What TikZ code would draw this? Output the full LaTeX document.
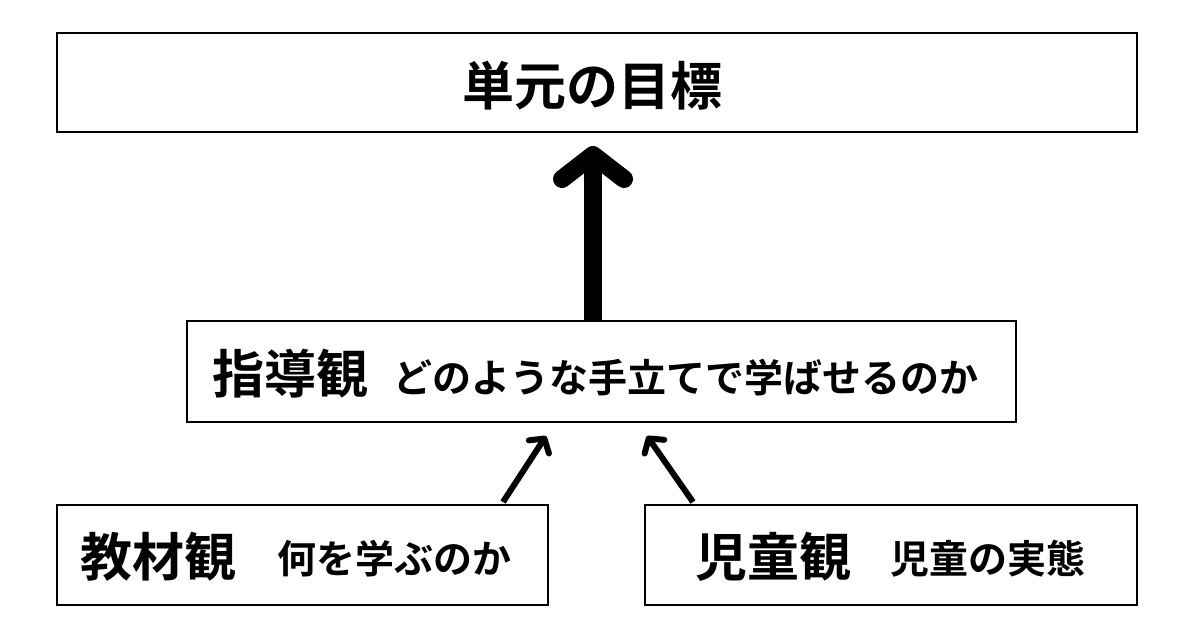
\documentclass[tikz,border=0pt]{standalone}
\usepackage{fontspec}
\newfontfamily\cjk{Noto Sans CJK JP Bold}
\usetikzlibrary{arrows.meta}
\tikzset{
  box/.style = {draw, line width=1.2pt, rectangle, inner sep=0pt},
  big/.style = {font=\cjk\fontsize{52}{56}\selectfont},
  sub/.style = {font=\cjk\fontsize{39}{42}\selectfont},
}
\begin{document}
\begin{tikzpicture}[x=1pt,y=-1pt]
  \useasboundingbox (0,0) rectangle (1200,630);

  \draw[box] (57,33) rectangle (1137,132);
  \draw[box] (187,321) rectangle (1016,422);
  \draw[box] (57,505) rectangle (548,605);
  \draw[box] (645,505) rectangle (1137,605);

  \node[big] (goal) at (592,86) {単元の目標};
  \node[big, anchor=west, inner sep=0pt] (lead) at (212,374) {指導観};
  \node[sub, anchor=west, inner sep=0pt] (leadsub) at (393,378) {どのような手立てで学ばせるのか};
  \node[big, anchor=west, inner sep=0pt] (mat) at (80,557) {教材観};
  \node[sub, anchor=west, inner sep=0pt] (matsub) at (277,559) {何を学ぶのか};
  \node[big, anchor=west, inner sep=0pt] (child) at (695,557) {児童観};
  \node[sub, anchor=west, inner sep=0pt] (childsub) at (890,559) {児童の実態};

  \coordinate (upfoot) at (593,320);
  \coordinate (uphead) at (593,146);
  \draw[line width=18pt, -{Straight Barb[round, length=24pt, width=62pt]}] (upfoot) -- (uphead);

  \coordinate (lfoot) at (503,502);
  \coordinate (lhead) at (546,436);
  \coordinate (rfoot) at (693,502);
  \coordinate (rhead) at (647,436);
  \draw[line width=6pt, -{Straight Barb[round, length=10pt, width=24pt]}] (lfoot) -- (lhead);
  \draw[line width=6pt, -{Straight Barb[round, length=10pt, width=24pt]}] (rfoot) -- (rhead);
\end{tikzpicture}
\end{document}
